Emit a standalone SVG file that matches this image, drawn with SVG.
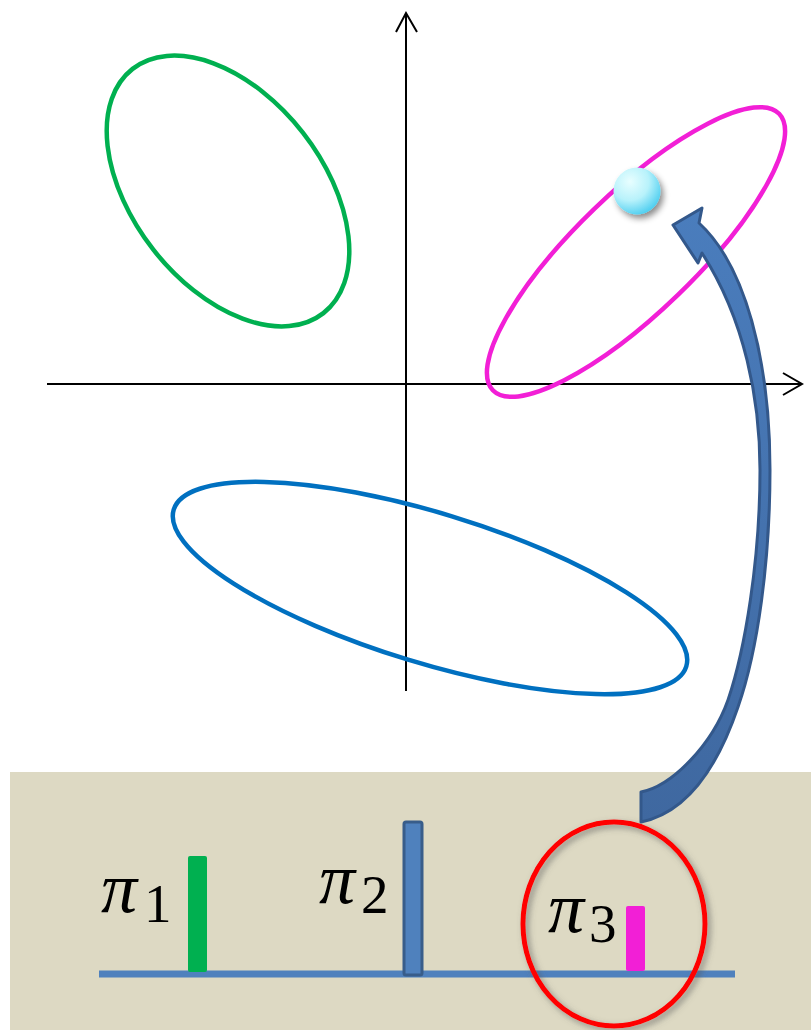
<svg xmlns="http://www.w3.org/2000/svg" width="811" height="1030" viewBox="0 0 811 1030">
  <style>
    .axis { stroke: #000; stroke-width: 2; fill: none; }
    .ell { fill: none; stroke-width: 4.5; }
    .pi { font-family: "Liberation Serif", "DejaVu Serif", serif; font-style: italic; font-size: 72px; fill: #000; }
    .sub { font-family: "Liberation Serif", "DejaVu Serif", serif; font-size: 55px; fill: #000; }
  </style>
  <defs>
    <radialGradient id="ballGrad" cx="0.35" cy="0.3" r="0.8">
      <stop offset="0" stop-color="#e8feff"/>
      <stop offset="0.5" stop-color="#b8f2fb"/>
      <stop offset="1" stop-color="#3cc8ee"/>
    </radialGradient>
    <linearGradient id="arrowGrad" x1="0" y1="0" x2="0" y2="1">
      <stop offset="0" stop-color="#4a7dbd"/>
      <stop offset="1" stop-color="#3f68a0"/>
    </linearGradient>
    <filter id="shadow" x="-50%" y="-50%" width="200%" height="200%">
      <feDropShadow dx="3" dy="4" stdDeviation="3" flood-color="#000" flood-opacity="0.45"/>
    </filter>
    <filter id="redShadow" x="-20%" y="-20%" width="140%" height="140%">
      <feDropShadow dx="3" dy="3" stdDeviation="3" flood-color="#555" flood-opacity="0.6"/>
    </filter>
  </defs>

  <g id="panel">
    <rect x="10" y="772" width="801" height="258" fill="#ddd9c3"/>
  </g>

  <g id="axes">
    <line class="axis" x1="47" y1="384" x2="801" y2="384"/>
    <polyline class="axis" points="783,373 802,384 783,395"/>
    <line class="axis" x1="406" y1="691" x2="406" y2="14"/>
    <polyline class="axis" points="396,32 406,13 417,32"/>
  </g>

  <g id="green-cluster">
    <ellipse class="ell" stroke="#00b050" cx="228" cy="191" rx="155" ry="95" transform="rotate(52 228 191)"/>
  </g>
  <g id="magenta-cluster">
    <ellipse class="ell" stroke="#f21fd6" cx="636" cy="252" rx="199" ry="60" transform="rotate(-44 636 252)"/>
  </g>
  <g id="blue-cluster">
    <ellipse class="ell" stroke="#0070c0" cx="430" cy="588" rx="268" ry="75" transform="rotate(17 430 588)"/>
  </g>

  <g id="ball">
    <circle cx="637" cy="191" r="23.5" fill="url(#ballGrad)" filter="url(#shadow)"/>
  </g>

  <g id="connectors">
    <path d="M641,792 C672,786 712,745 728,700 C745,650 760,560 760,470 C760,400 745,320 702,253 L698,263 L673,225 L702,208 L699,223 C745,265 770,360 770,470 C770,560 758,650 738,707 C720,760 690,812 641,822 Z" fill="url(#arrowGrad)" stroke="#33588b" stroke-width="3" stroke-linejoin="round"/>
  </g>

  <g id="bars">
    <line x1="99" y1="974" x2="735" y2="974" stroke="#4f81bd" stroke-width="7"/>
    <rect x="188" y="856" width="19" height="116" rx="2" fill="#00b050"/>
    <rect x="404" y="822" width="18" height="153" rx="2" fill="#4f81bd" stroke="#385d8a" stroke-width="3"/>
    <rect x="626" y="906" width="19" height="65" rx="2" fill="#f21fd6"/>
  </g>

  <g id="label-pi1">
    <text class="pi" x="101" y="912">π</text>
    <text class="sub" x="144" y="922">1</text>
  </g>
  <g id="label-pi2">
    <text class="pi" x="319" y="903">π</text>
    <text class="sub" x="361" y="913">2</text>
  </g>
  <g id="label-pi3">
    <text class="pi" x="548" y="932">π</text>
    <text class="sub" x="589" y="942">3</text>
  </g>

  <g id="highlight">
    <ellipse cx="614" cy="924" rx="91" ry="102" fill="none" stroke="#ff0000" stroke-width="5" filter="url(#redShadow)"/>
  </g>
</svg>
